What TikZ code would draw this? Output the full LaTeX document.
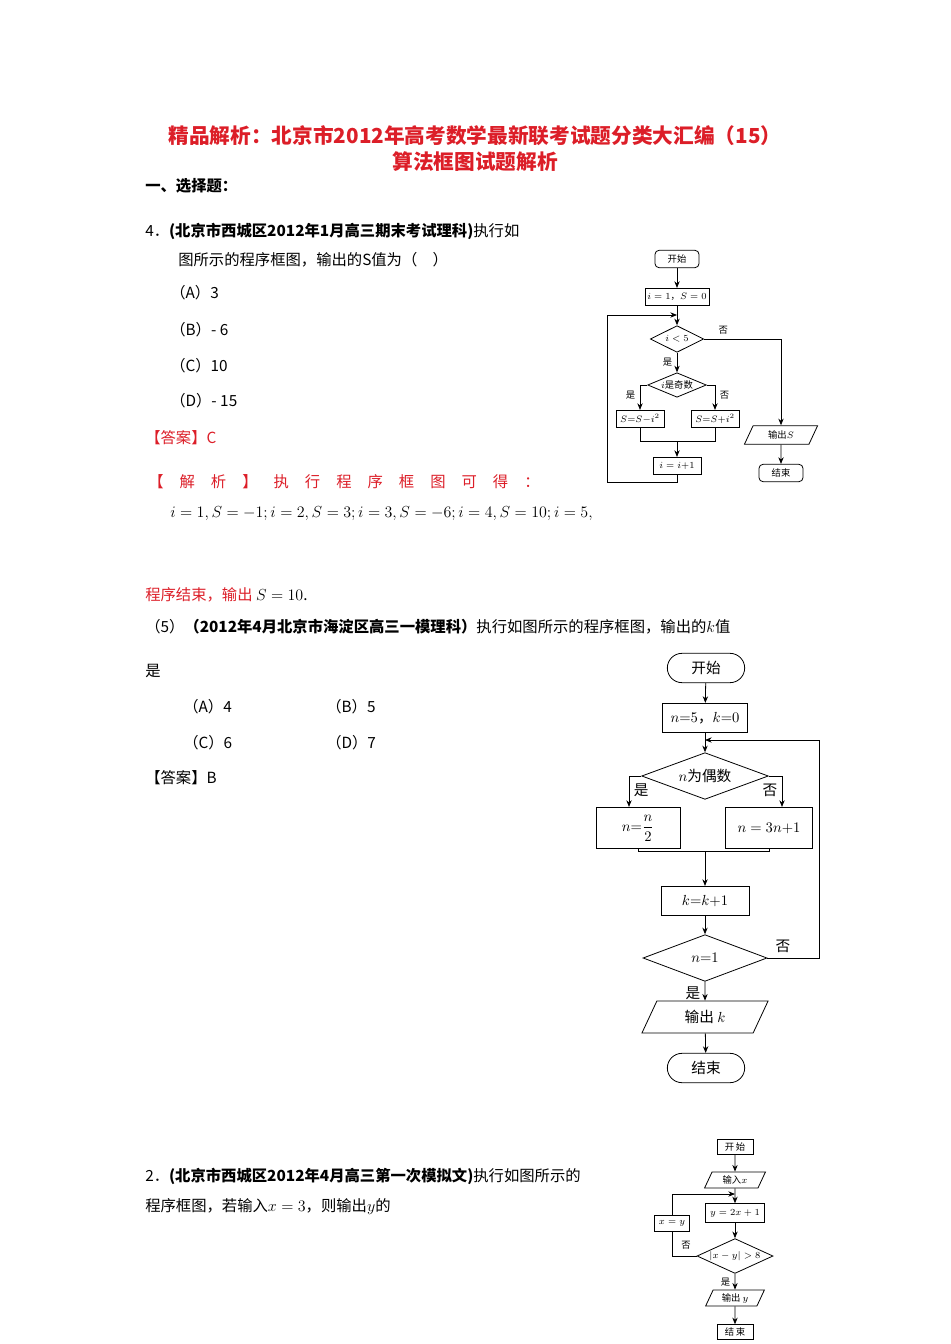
\documentclass[tikz,border=0pt]{standalone}
\usepackage{fontspec}
\usepackage{amsmath}
\setmainfont{Liberation Serif}
\newfontfamily\cjk{Noto Sans CJK SC}
\usetikzlibrary{shapes.geometric,arrows.meta}
\definecolor{redt}{RGB}{220,30,40}
\begin{document}
\begin{tikzpicture}[x=0.75pt,y=-0.75pt,
 txt/.style={anchor=west,inner sep=0,font=\fontsize{11.5}{13}\selectfont\cjk},
 bx/.style={draw,line width=0.6pt,inner sep=0,align=center},
 rbx/.style={bx,rounded corners=3pt},
 dia/.style={draw,line width=0.6pt,diamond,aspect=2,inner sep=0},
 para/.style={draw,line width=0.6pt,trapezium,trapezium left angle=65,trapezium right angle=115,inner sep=0},
 ln/.style={line width=0.6pt},
 ar/.style={line width=0.6pt,-{Stealth[length=5pt,width=4pt]}},
 sm/.style={font=\fontsize{7}{8}\selectfont\cjk},
 md/.style={font=\fontsize{11}{12}\selectfont\cjk}]
\useasboundingbox (0,0) rectangle (950,1344);
% title
\node[inner sep=0,text=redt,font=\fontsize{15.5}{18}\selectfont\cjk\bfseries] (t1) at (475,136) {精品解析：北京市2012年高考数学最新联考试题分类大汇编（15）};
\node[inner sep=0,text=redt,font=\fontsize{15.5}{18}\selectfont\cjk\bfseries] (t2) at (475,162) {算法框图试题解析};
\node[txt,font=\fontsize{11.5}{13}\selectfont\cjk\bfseries] (h1) at (145,186) {一、选择题：};
\node[txt] (q4a) at (145,231) {4．{\bfseries (北京市西城区2012年1月高三期末考试理科)}执行如};
\node[txt] (q4b) at (178,260) {图所示的程序框图，输出的\textit{S}值为（\quad ）};
\node[txt] (oa) at (170,293) {（A）3};
\node[txt] (ob) at (170,330) {（B）- 6};
\node[txt] (oc) at (170,366) {（C）10};
\node[txt] (od) at (170,401) {（D）- 15};
\node[txt,text=redt] (ans4) at (145,438) {【答案】C};
\node[txt,text=redt] (jx) at (148,482) {【\hspace{12pt}解\hspace{12pt}析\hspace{12pt}】\hspace{12pt}执\hspace{12pt}行\hspace{12pt}程\hspace{12pt}序\hspace{12pt}框\hspace{12pt}图\hspace{12pt}可\hspace{12pt}得\hspace{12pt}：};
\node[txt,font=\fontsize{12}{13}\selectfont] (math) at (170,514) {$i=1,S=-1; i=2,S=3; i=3,S=-6; i=4,S=10; i=5,$};
\node[txt,text=redt] (end4) at (145,595) {程序结束，输出 \textcolor{black}{$S=10$.}};
\node[txt] (q5a) at (145,627) {（5）{\bfseries （2012年4月北京市海淀区高三一模理科）}执行如图所示的程序框图，输出的$k$值};
\node[txt] (q5b) at (145,671) {是};
\node[txt] (pa) at (183,707) {（A）4};
\node[txt] (pb) at (326,707) {（B）5};
\node[txt] (pc) at (183,743) {（C）6};
\node[txt] (pd) at (326,743) {（D）7};
\node[txt] (ans5) at (145,778) {【答案】B};
\node[txt] (q2a) at (145,1176) {2．{\bfseries (北京市西城区2012年4月高三第一次模拟文)}执行如图所示的};
\node[txt] (q2b) at (145,1207) {程序框图，若输入$x=3$，则输出$y$的};

% flowchart 1
\begin{scope}[every node/.append style={sm}]
\node[rbx,minimum width=33pt,minimum height=13pt] (a1) at (677,259) {开始};
\node[bx,minimum width=48pt,minimum height=13pt] (a2) at (677,297) {$i=1$，$S=0$};
\node[dia,minimum width=40pt,minimum height=20pt] (a3) at (677,339) {$i<5$};
\node[dia,minimum width=44pt,minimum height=18pt] (a4) at (677,385) {$i$是奇数};
\node[bx,minimum width=36pt,minimum height=13pt] (a5) at (640,419) {$S{=}S{-}i^2$};
\node[bx,minimum width=36pt,minimum height=13pt] (a6) at (715,419) {$S{=}S{+}i^2$};
\node[bx,minimum width=36pt,minimum height=13pt] (a7) at (677,466) {$i=i{+}1$};
\node[para,minimum width=34pt,minimum height=14pt] (a8) at (781,435) {输出$S$};
\node[rbx,minimum width=33pt,minimum height=13pt] (a9) at (781,473) {结束};
\coordinate (c1) at (677,315);
\draw[ar] (a1) -- (a2);
\draw[ar] (a2) -- (a3);
\draw[ar] (a3) -- node[pos=0.5,left]{是} (a4);
\draw[ar] (a4.west) -| node[pos=0.7,left]{是} (a5);
\draw[ar] (a4.east) -| node[pos=0.7,right]{否} (a6);
\draw[ln] (a5.south) -- (640,441) -- (715,441) -- (a6.south);
\draw[ar] (677,441) -- (a7);
\draw[ar] (a7.south) -- (677,482) -- (607,482) -- (607,315) -- (c1);
\draw[ar] (a3.east) -- node[pos=0.25,above]{否} (781,339) -- (a8);
\draw[ar] (a8) -- (a9);
\end{scope}

% flowchart 2
\begin{scope}[every node/.append style={md}]
\node[bx,rounded corners=11pt,minimum width=58pt,minimum height=22pt] (b1) at (706,668) {开始};
\node[bx,minimum width=64pt,minimum height=22pt] (b2) at (705,718) {$n{=}5$，$k{=}0$};
\node[dia,minimum width=95pt,minimum height=35pt] (b3) at (705,776) {$n$为偶数};
\node[bx,minimum width=63pt,minimum height=31pt] (b4) at (638,828) {$n{=}\dfrac{n}{2}$};
\node[bx,minimum width=65pt,minimum height=31pt] (b5) at (769,828) {$n=3n{+}1$};
\node[bx,minimum width=66pt,minimum height=22pt] (b6) at (705,901) {$k{=}k{+}1$};
\node[dia,minimum width=93pt,minimum height=35pt] (b7) at (705,958) {$n{=}1$};
\node[para,minimum width=70pt,minimum height=24pt] (b8) at (705,1017) {输出 $k$};
\node[bx,rounded corners=11pt,minimum width=58pt,minimum height=22pt] (b9) at (706,1068) {结束};
\coordinate (c2) at (705,740);
\draw[ar] (b1) -- (b2);
\draw[ar] (b2) -- (b3);
\draw[ar] (b3.west) -- (629,776) -- node[right,pos=0.45]{是} (b4.north -| 629,0);
\draw[ar] (b3.east) -- (782,776) -- node[left,pos=0.45]{否} (b5.north -| 782,0);
\draw[ln] (b4.south) -- (b4.south |- 0,851) -- (b5.south |- 0,851) -- (b5.south);
\draw[ar] (705,851) -- (b6);
\draw[ar] (b6) -- (b7);
\draw[ar] (b7.east) -- node[pos=0.3,above]{否} (819,958) -- (819,740) -- (c2);
\draw[ar] (b7) -- node[left,pos=0.6]{是} (b8);
\draw[ar] (b8) -- (b9);
\end{scope}

% flowchart 3
\begin{scope}[every node/.append style={font=\fontsize{7}{8}\selectfont\cjk}]
\node[bx,minimum width=27pt,minimum height=11pt] (d1) at (735,1147) {开\,始};
\node[para,minimum width=36pt,minimum height=12pt] (d2) at (735,1180) {输入$x$};
\node[bx,minimum width=44pt,minimum height=14pt] (d3) at (735,1213) {$y=2x+1$};
\node[dia,minimum width=57pt,minimum height=20pt] (d4) at (735,1256) {$|x-y|>8$};
\node[bx,minimum width=26pt,minimum height=12pt] (d5) at (672,1223) {$x=y$};
\node[para,minimum width=36pt,minimum height=12pt] (d6) at (735,1298) {输出 $y$};
\node[bx,minimum width=27pt,minimum height=11pt] (d7) at (735,1332) {结\,束};
\coordinate (c3) at (735,1194);
\draw[ar] (d1) -- (d2);
\draw[ar] (d2) -- (d3);
\draw[ar] (d3) -- (d4);
\draw[ln] (d4.west) -- (672,1256) -- (d5.south);
\node[inner sep=1pt] (no3) at (686,1245) {否};
\draw[ar] (d5.north) -- (672,1194) -- (c3);
\draw[ar] (d4) -- node[left,pos=0.5]{是} (d6);
\draw[ar] (d6) -- (d7);
\end{scope}
\end{tikzpicture}
\end{document}
